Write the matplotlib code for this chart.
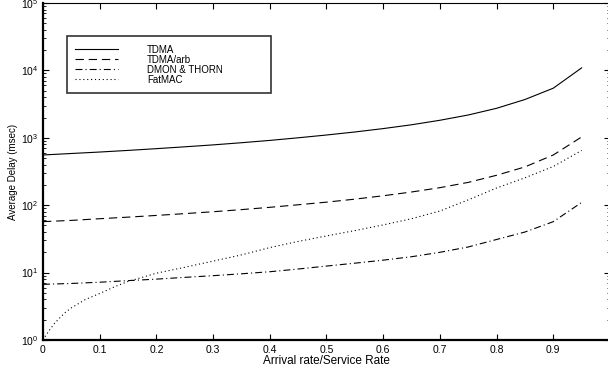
import numpy as np
import matplotlib
matplotlib.use("Agg")
import matplotlib.pyplot as plt

plt.rcParams['font.family'] = ['Liberation Sans', 'DejaVu Sans']
plt.rcParams['mathtext.default'] = 'regular'
plt.rcParams['lines.scale_dashes'] = False

# ====================================
# DATA
# ====================================
rho = [0.0, 0.05, 0.1, 0.15, 0.2, 0.25, 0.3, 0.35, 0.4, 0.45,
       0.5, 0.55, 0.6, 0.65, 0.7, 0.75, 0.8, 0.85, 0.9, 0.95]

tdma = [556, 585, 615, 650, 690, 735, 785, 845, 915, 1000,
        1100, 1220, 1370, 1560, 1820, 2180, 2740, 3700, 5450, 10900]

tdma_arb = [57, 59.5, 63, 66.5, 70.5, 75, 80, 86, 93, 101.5,
            111, 123, 138, 157, 182, 218, 278, 370, 556, 1030]

dmon = [6.7, 6.9, 7.2, 7.6, 8.0, 8.5, 9.0, 9.6, 10.3, 11.3,
        12.5, 13.8, 15.3, 17.2, 20.0, 24.0, 31.0, 40.0, 57.0, 110.0]

rho_fat = [0.0, 0.01, 0.02, 0.03, 0.04, 0.05, 0.075, 0.1, 0.125, 0.15,
           0.2, 0.25, 0.3, 0.35, 0.4, 0.45, 0.5, 0.55, 0.6, 0.65,
           0.7, 0.75, 0.8, 0.85, 0.9, 0.95]
fatmac = [1.0, 1.35, 1.75, 2.15, 2.6, 3.0, 4.0, 4.9, 6.1, 7.4,
          9.8, 12.0, 14.8, 18.3, 23.5, 29, 35, 42, 51, 63,
          82, 120, 180, 255, 375, 650]

labels = ['TDMA', 'TDMA/arb', 'DMON & THORN', 'FatMAC']
xtick_labels = ['0', '0.1', '0.2', '0.3', '0.4', '0.5', '0.6', '0.7', '0.8', '0.9', '']

# ====================================
# PLOT
# ====================================
fig = plt.figure(figsize=(6.08, 3.74), dpi=100)
ax = fig.add_axes([43 / 608, 34 / 374, 567 / 608, 337 / 374])

lw = 0.8
ax.plot(rho, tdma, color='k', lw=lw, linestyle='-', label=labels[0])
ax.plot(rho, tdma_arb, color='k', lw=lw, linestyle=(0, (6, 3.5)), label=labels[1])
ax.plot(rho, dmon, color='k', lw=lw, linestyle=(0, (5, 2.2, 0.8, 2.2)), label=labels[2])
ax.plot(rho_fat, fatmac, color='k', lw=lw, linestyle=(0, (0.8, 2.0)), label=labels[3])

ax.set_yscale('log')
ax.set_xlim(0, 1)
ax.set_ylim(1, 1e5)
ax.set_xticks(np.arange(0, 1.01, 0.1))
ax.set_xticklabels(xtick_labels)

ax.tick_params(which='both', direction='in', top=True, right=True, labelsize=7.5)
ax.tick_params(which='major', length=4, width=0.8)
ax.tick_params(which='minor', length=2, width=0.6)
for side in ['left', 'bottom']:
    ax.spines[side].set_linewidth(1.6)
for side in ['top', 'right']:
    ax.spines[side].set_linewidth(0.8)

ax.set_xlabel('Arrival rate/Service Rate', fontsize=8.5, labelpad=0)
ax.set_ylabel('Average Delay (msec)', fontsize=7, labelpad=2)

leg = ax.legend(loc='lower left', bbox_to_anchor=(0.042, 0.733, 0.36, 0.166),
                mode='expand', fontsize=7, frameon=True, fancybox=False,
                handlelength=4.4, handletextpad=3.0, labelspacing=0.0,
                borderpad=0.85, borderaxespad=0)
leg.get_frame().set_edgecolor('k')
leg.get_frame().set_linewidth(1.2)

fig.savefig('out.png', dpi=100)
